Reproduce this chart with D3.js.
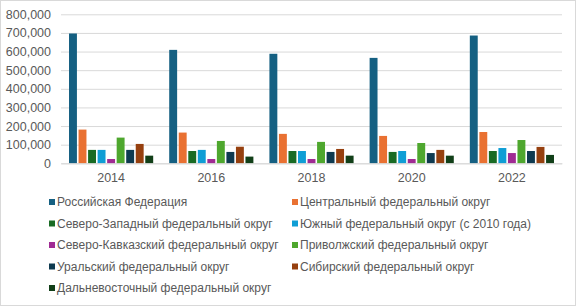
<!DOCTYPE html>
<html>
<head>
<meta charset="utf-8">
<script src="https://cdn.jsdelivr.net/npm/d3@7"></script>
<style>
  html, body { margin: 0; padding: 0; background: #fff; }
  svg { display: block; font-family: "Liberation Sans", Arial, sans-serif; }
</style>
</head>
<body>
<svg id="chart" width="576" height="306"></svg>
<script>
const years = ["2014", "2016", "2018", "2020", "2022"];
const seriesNames = [
  "Российская Федерация",
  "Центральный федеральный округ",
  "Северо-Западный федеральный округ",
  "Южный федеральный округ (с 2010 года)",
  "Северо-Кавказский федеральный округ",
  "Приволжский федеральный округ",
  "Уральский федеральный округ",
  "Сибирский федеральный округ",
  "Дальневосточный федеральный округ"
];
const seriesColors = ["#156082", "#E97132", "#196B24", "#0F9ED5", "#A02B93", "#4EA72E", "#0E3A50", "#96400F", "#113F18"];
const rf      = [697000, 609000, 588000, 566000, 686000];
const central = [181000, 165000, 158000, 147000, 168000];
const nw      = [72000, 66000, 66000, 61000, 66000];
const south   = [72000, 72000, 66000, 66000, 82000];
const ncauc   = [23000, 23000, 23000, 23000, 55000];
const volga   = [138000, 120000, 115000, 109000, 125000];
const ural    = [72000, 61000, 61000, 55000, 66000];
const siberia = [104000, 89000, 77000, 72000, 88000];
const fareast = [41000, 36000, 41000, 41000, 45000];
const seriesValues = [rf, central, nw, south, ncauc, volga, ural, siberia, fareast];
const yTicks = [0, 100000, 200000, 300000, 400000, 500000, 600000, 700000, 800000];

const svg = d3.select("#chart");
const W = 576, H = 306;

// chart border
svg.append("rect").attr("x", 0.5).attr("y", 0.5).attr("width", W - 1).attr("height", H - 1)
  .attr("fill", "#fff").attr("stroke", "#d9d9d9");

const x0 = d3.scaleBand().domain(years).range([61, 562]).paddingInner(0.16).paddingOuter(0.08);
const x1 = d3.scaleBand().domain(d3.range(seriesNames.length)).range([0, x0.bandwidth()]).paddingInner(0.17).paddingOuter(0);
const y = d3.scaleLinear().domain([0, 800000]).range([163.3, 14.3]);

// gridlines
const yAxis = d3.axisLeft(y).tickValues(yTicks).tickFormat(d3.format(",")).tickSize(-(562 - 61)).tickPadding(10);
const gy = svg.append("g").attr("transform", "translate(61,0)").call(yAxis);
gy.select(".domain").remove();
gy.selectAll(".tick line").attr("stroke", "#d9d9d9").attr("stroke-width", 1);
gy.selectAll(".tick text").attr("fill", "#595959").attr("font-size", 12.5)
  .attr("font-family", "Liberation Sans, Arial, sans-serif").attr("x", -10);

// bars
const groups = svg.append("g").selectAll("g").data(years).join("g")
  .attr("transform", d => `translate(${x0(d)},0)`);
groups.selectAll("rect")
  .data((d, i) => seriesValues.map((vals, s) => ({ s, v: vals[i] })))
  .join("rect")
  .attr("x", d => x1(d.s))
  .attr("width", x1.bandwidth())
  .attr("y", d => y(d.v))
  .attr("height", d => y(0) - y(d.v))
  .attr("fill", d => seriesColors[d.s]);

// x axis
const xAxis = d3.axisBottom(x0).tickSize(0).tickPadding(10);
const gx = svg.append("g").attr("transform", `translate(0,${y(0)})`).call(xAxis);
gx.select(".domain").attr("stroke", "#d9d9d9");
gx.selectAll(".tick text").attr("fill", "#595959").attr("font-size", 12.5)
  .attr("font-family", "Liberation Sans, Arial, sans-serif");

// legend
const legend = svg.append("g");
const colX = [49, 292];
seriesNames.forEach((name, i) => {
  const col = i % 2, row = Math.floor(i / 2);
  const cy = 202 + row * 21.5;
  const g = legend.append("g").attr("transform", `translate(${colX[col]},${cy})`);
  g.append("rect").attr("x", 0).attr("y", -3).attr("width", 6).attr("height", 6).attr("fill", seriesColors[i]);
  g.append("text").attr("x", 8).attr("y", 0).attr("dy", "0.35em")
    .attr("font-size", 12).attr("fill", "#595959").text(name);
});
</script>
</body>
</html>
